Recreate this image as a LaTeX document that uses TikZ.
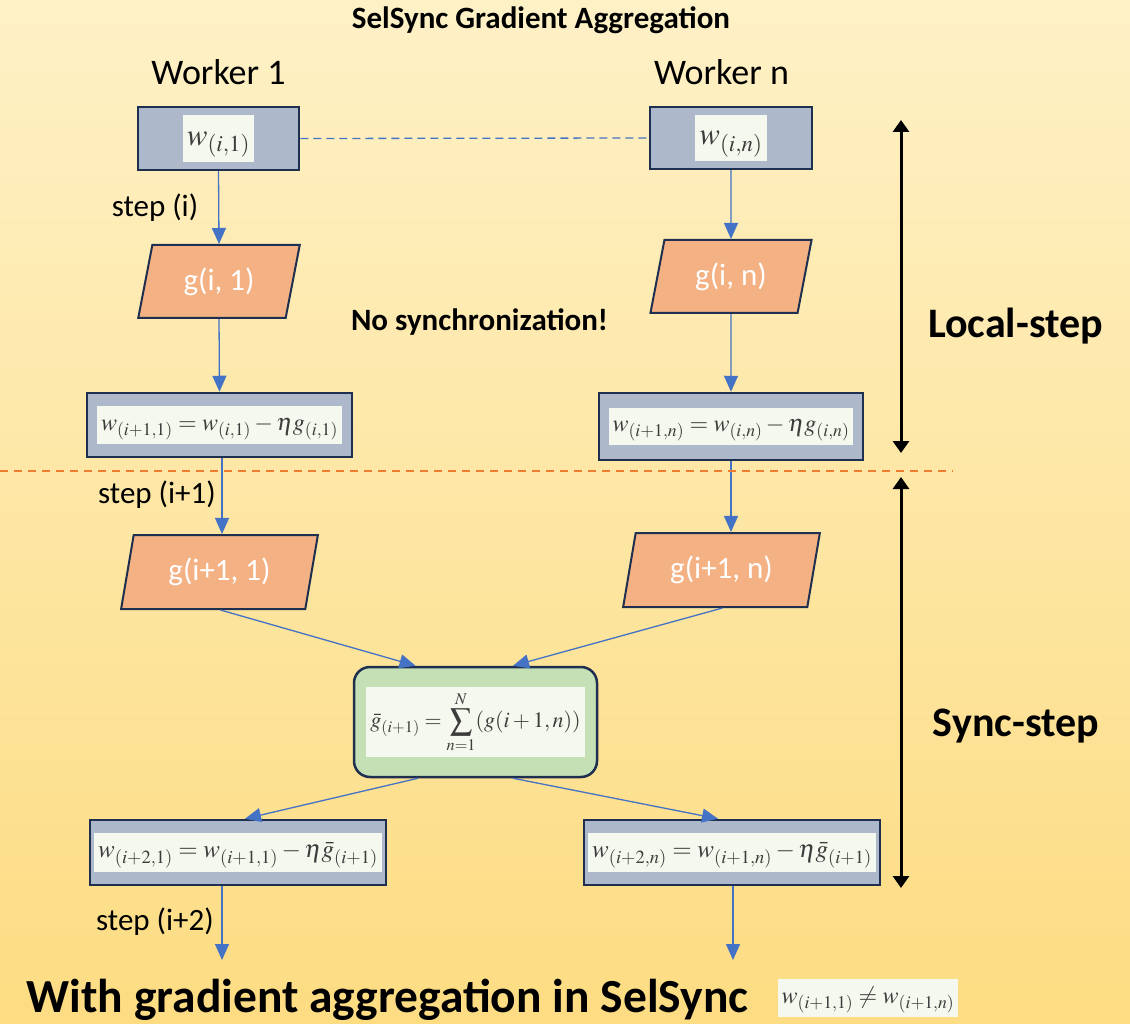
\documentclass[tikz,border=0pt]{standalone}
\usepackage{mathptmx}
\usepackage{fontspec}
\setmainfont{Carlito}
\usetikzlibrary{shapes.geometric,arrows.meta,calc}

\definecolor{bgtop}{HTML}{FEF1C6}
\definecolor{bgbot}{HTML}{FDDC82}
\definecolor{boxfill}{HTML}{ADB9CA}
\definecolor{navy}{HTML}{1F2F4F}
\definecolor{gradfill}{HTML}{F4B183}
\definecolor{sumfill}{HTML}{C5E0B4}
\definecolor{labbg}{HTML}{F5F8EE}
\definecolor{flow}{HTML}{4472C4}
\definecolor{cut}{HTML}{ED7D31}
\definecolor{mathgray}{HTML}{3C3C3C}

% formula on a pale label
\setlength{\fboxsep}{4pt}
\newcommand{\mlab}[2]{\colorbox{labbg}{\color{mathgray}\fontsize{#1}{#1}\selectfont\rule[-0.32em]{0pt}{1.15em}$#2$}}
\newcommand{\fsz}[1]{\fontsize{#1}{#1}\selectfont}

\tikzset{
  wbox/.style={rectangle, draw=navy, line width=2.5pt, fill=boxfill, inner sep=0pt},
  gpara/.style={trapezium, trapezium left angle=75, trapezium right angle=105,
    trapezium stretches=true, draw=navy, line width=2pt, fill=gradfill,
    text=white, font=\fsz{31}, minimum width=162pt, minimum height=73pt, inner sep=0pt},
  sumbox/.style={rectangle, rounded corners=16pt, draw=navy, line width=2.5pt,
    fill=sumfill, inner sep=0pt, minimum width=243pt, minimum height=110pt},
  flowarrow/.style={draw=flow, line width=1.3pt, -{Triangle[length=16pt,width=14pt]}},
  phasearrow/.style={draw=black, line width=3pt,
    {Triangle[length=12pt,width=16pt]}-{Triangle[length=12pt,width=16pt]}},
  plain/.style={font=\fsz{31}},
  heading/.style={font=\bfseries\fsz{31}},
}

\begin{document}
\begin{tikzpicture}[x=1pt,y=-1pt]
  % page and background
  \shade[top color=bgtop, bottom color=bgbot] (0,0) rectangle (1130,1024);
  \useasboundingbox (0,0) rectangle (1130,1024);

  % headings
  \node[heading] (title) at (541,20) {SelSync Gradient Aggregation};
  \node[font=\fsz{36}] (wk1) at (218.5,72) {Worker 1};
  \node[font=\fsz{36}] (wkn) at (721.5,72) {Worker n};

  % local step
  \node[wbox, minimum width=161pt, minimum height=63pt] (w1) at (218.5,138.5) {\mlab{31}{w_{(i,1)}}};
  \node[wbox, minimum width=162pt, minimum height=62pt] (wn) at (731,138) {\mlab{31}{w_{(i,n)}}};
  \node[gpara] (g1) at (219,281.5) {g(i, 1)};
  \node[gpara] (gn) at (731,276.5) {g(i, n)};
  \node[heading] (nosync) at (479.5,322) {No synchronization!};
  \node[wbox, minimum width=265pt, minimum height=64pt] (u1) at (219.5,425)
    {\mlab{24}{w_{(i+1,1)} = w_{(i,1)} - \eta g_{(i,1)}}};
  \node[wbox, minimum width=264pt, minimum height=67pt] (un) at (731,426.5)
    {\mlab{24}{w_{(i+1,n)} = w_{(i,n)} - \eta g_{(i,n)}}};

  % sync step
  \node[gpara, minimum width=197pt, minimum height=74pt] (h1) at (219.5,572) {g(i+1, 1)};
  \node[gpara, minimum width=197pt, minimum height=74pt] (hn) at (721.5,570) {g(i+1, n)};
  \node[sumbox] (s) at (475.5,722)
    {\colorbox{labbg}{\color{mathgray}\fsz{22}$\bar{g}_{(i+1)} = \displaystyle\sum_{n=1}^{N} (g(i+1,n))$}};
  \node[wbox, minimum width=296pt, minimum height=65pt] (v1) at (238,852.5)
    {\mlab{25}{w_{(i+2,1)} = w_{(i+1,1)} - \eta \bar{g}_{(i+1)}}};
  \node[wbox, minimum width=296pt, minimum height=65pt] (vn) at (732,852.5)
    {\mlab{25}{w_{(i+2,n)} = w_{(i+1,n)} - \eta \bar{g}_{(i+1)}}};

  % step labels
  \node[plain] (st1) at (155,208) {step (i)};
  \node[plain] (st2) at (157,495) {step (i+1)};
  \node[plain] (st3) at (155,922) {step (i+2)};

  % phase labels
  \node[font=\bfseries\fsz{42}] (local) at (1015.5,326) {Local-step};
  \node[font=\bfseries\fsz{42}] (sync) at (1016,726) {Sync-step};

  % bottom caption
  \node[font=\bfseries\fsz{47.5}] (cap) at (387.5,1000) {With gradient aggregation in SelSync};
  \node[inner sep=0pt] (neq) at (868,998) {\mlab{24}{w_{(i+1,1)} \neq w_{(i+1,n)}}};

  % free ends and rule coordinates
  \coordinate (u1b) at ($(u1.south)+(2.5,0)$);
  \coordinate (e1) at (222,960);
  \coordinate (en) at (733,960);
  \coordinate (cutL) at (0,471);
  \coordinate (cutR) at (953,471);
  \coordinate (la) at (901,120);
  \coordinate (lb) at (901,453);
  \coordinate (sa) at (901,477);
  \coordinate (sb) at (901,888);

  % connectors
  \draw[draw=flow, line width=1.3pt, dash pattern=on 8pt off 5pt] (w1.east) -- (wn.west);
  \draw[flowarrow] (w1.south) -- (g1.north);
  \draw[flowarrow] (wn.south) -- (gn.north);
  \draw[flowarrow] (g1.south) -- (u1.north);
  \draw[flowarrow] (gn.south) -- (un.north);
  \draw[flowarrow] (u1b) -- (u1b |- h1.north);
  \draw[flowarrow] (un.south) -- (un.south |- hn.north);
  \draw[flowarrow] ($(h1.south)+(1,0)$) -- ($(s.north)+(-60,0)$);
  \draw[flowarrow] ($(hn.south)+(1,0)$) -- ($(s.north)+(37.5,0)$);
  \draw[flowarrow] ($(s.south)+(-57.5,0)$) -- ($(v1.north)+(7,0)$);
  \draw[flowarrow] ($(s.south)+(37.5,0)$) -- ($(vn.north)+(-14,0)$);
  \draw[flowarrow] (v1.south -| e1) -- (e1);
  \draw[flowarrow] (vn.south -| en) -- (en);

  % phase separator and extents
  \draw[draw=cut, line width=1.3pt, dash pattern=on 8pt off 6pt] (cutL) -- (cutR);
  \draw[phasearrow] (la) -- (lb);
  \draw[phasearrow] (sa) -- (sb);
\end{tikzpicture}
\end{document}
